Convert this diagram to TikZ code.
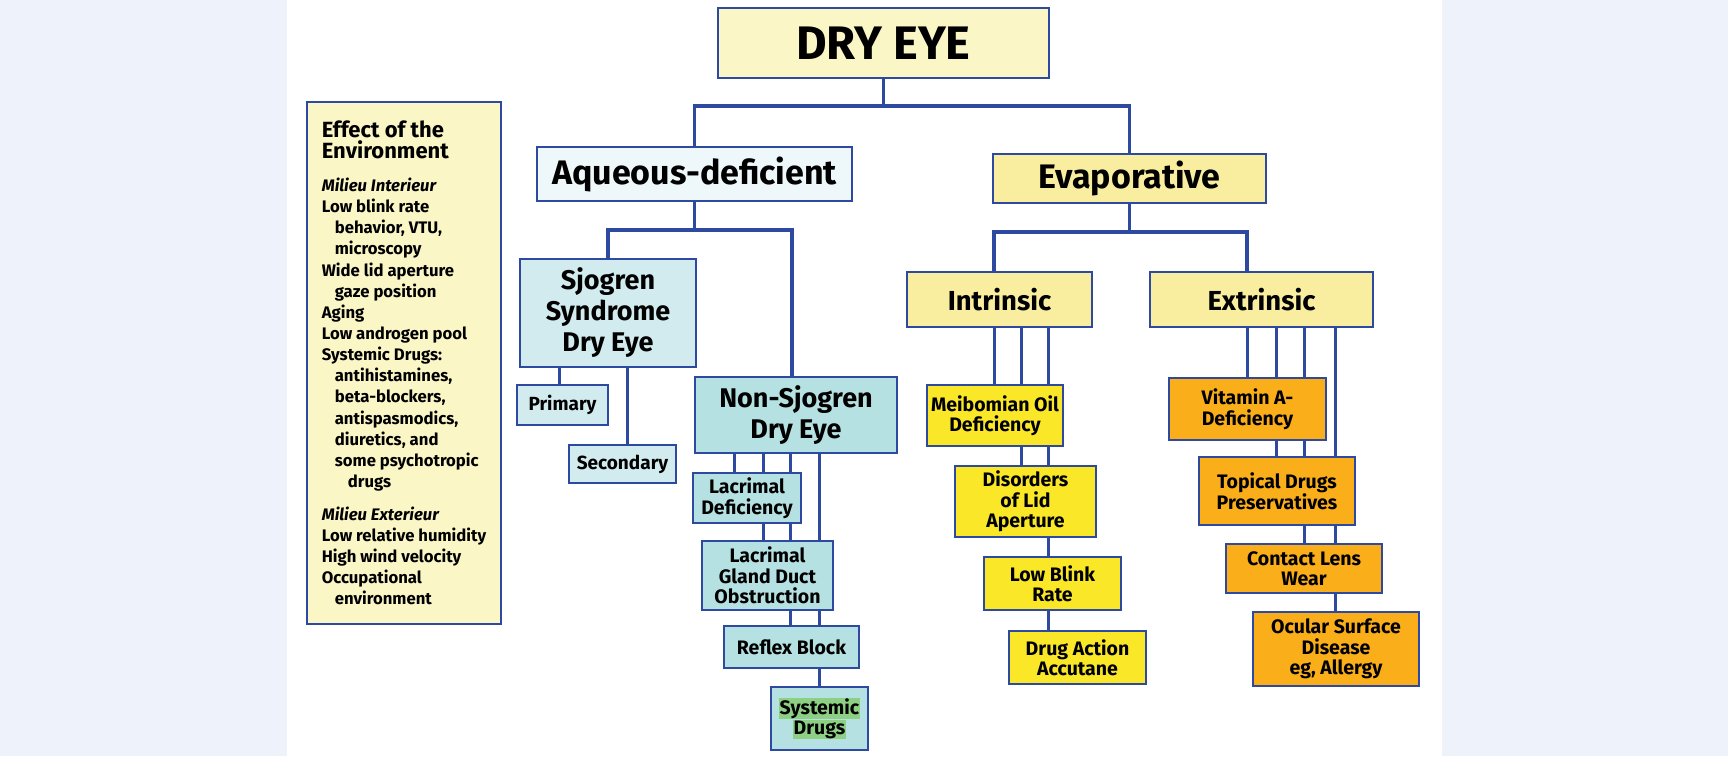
\documentclass[tikz,border=0pt]{standalone}
\usepackage{fontspec}
\setmainfont{Fira Sans}
\usepackage{xcolor}
\usetikzlibrary{positioning}

\definecolor{lineblue}{RGB}{46,74,160}
\definecolor{stripbg}{RGB}{238,242,250}
\definecolor{paleyellow}{RGB}{250,246,198}
\definecolor{evapyellow}{RGB}{249,238,160}
\definecolor{paleaqua}{RGB}{238,247,249}
\definecolor{sjaqua}{RGB}{209,235,238}
\definecolor{nsaqua}{RGB}{182,225,226}
\definecolor{brightyellow}{RGB}{249,231,40}
\definecolor{deeporange}{RGB}{249,174,26}
\definecolor{hlgreen}{RGB}{141,208,132}

\newcommand{\hilite}[1]{{\setlength{\fboxsep}{0.6pt}\colorbox{hlgreen}{#1}}}

\begin{document}
\begin{tikzpicture}[x=1pt, y=-1pt,
        box/.style={rectangle, draw=lineblue, line width=1.7pt, inner sep=0pt, align=center},
        sz/.style 2 args={minimum width=#1pt, minimum height=#2pt},
        dryfont/.style={font=\bfseries\fontsize{47}{47}\selectfont},
        headfont/.style={font=\bfseries\fontsize{34}{34}\selectfont},
        subfont/.style={font=\bfseries\fontsize{27.5}{30}\selectfont},
        sjfont/.style={font=\bfseries\fontsize{27}{31}\selectfont},
        primfont/.style={font=\bfseries\fontsize{19}{20}\selectfont},
        leaffont/.style={font=\bfseries\fontsize{19.5}{20.5}\selectfont},
        envfont/.style={font=\bfseries\fontsize{16.7}{21.14}\selectfont},
        trunk/.style={draw=lineblue, line width=3.6pt},
        branch/.style={draw=lineblue, line width=3pt}]

    % page
    \fill[stripbg] (0,0) rectangle (1728,756);
    \fill[white] (287,0) rectangle (1442,756);
    \useasboundingbox (0,0) rectangle (1728,756);

    % top levels
    \node[box, fill=paleyellow, sz={331}{70}, dryfont] (dry) at (883.5,43) {DRY EYE};
    \node[box, fill=paleaqua, sz={315}{54}, headfont] (aq) at (694.5,174) {Aqueous-deficient};
    \node[box, fill=evapyellow, sz={273}{49}, headfont] (evap) at (1129.5,178.5) {Evaporative};

    % environment panel
    \node[box, fill=paleyellow, sz={194}{522}, align=left, envfont] (env) at (404,363) {%
        {\fontsize{22}{21.14}\selectfont Effect of the}\\
        {\fontsize{22}{21.14}\selectfont Environment}\\[11.5pt]
        \textit{Milieu Interieur}\\
        Low blink rate\\
        \hspace*{13pt}behavior, VTU,\\
        \hspace*{13pt}microscopy\\
        Wide lid aperture\\
        \hspace*{13pt}gaze position\\
        Aging\\
        Low androgen pool\\
        Systemic Drugs:\\
        \hspace*{13pt}antihistamines,\\
        \hspace*{13pt}beta-blockers,\\
        \hspace*{13pt}antispasmodics,\\
        \hspace*{13pt}diuretics, and\\
        \hspace*{13pt}some psychotropic\\
        \hspace*{26pt}drugs\\[11.5pt]
        \textit{Milieu Exterieur}\\
        Low relative humidity\\
        High wind velocity\\
        Occupational\\
        \hspace*{13pt}environment};

    % aqueous-deficient side
    \node[box, fill=sjaqua, sz={176}{108}, sjfont] (sj) at (608,313) {Sjogren\\Syndrome\\Dry Eye};
    \node[box, fill=nsaqua, sz={202}{76}, sjfont] (nonsj) at (796,415) {Non-Sjogren\\Dry Eye};
    \node[box, fill=sjaqua, sz={91}{40}, primfont] (prim) at (562.5,405) {Primary};
    \node[box, fill=sjaqua, sz={107}{38}, primfont] (sec) at (622.5,464) {Secondary};
    \node[box, fill=nsaqua, sz={108}{50}, leaffont] (lacdef) at (747,498) {Lacrimal\\Deficiency};
    \node[box, fill=nsaqua, sz={131}{69}, leaffont] (lgd) at (767.5,575.5) {Lacrimal\\Gland Duct\\Obstruction};
    \node[box, fill=nsaqua, sz={135}{42}, leaffont] (reflex) at (791.5,647) {Reflex Block};
    \node[box, fill=nsaqua, sz={97}{63}, leaffont] (sysdrug) at (819.5,718.5) {\hilite{Systemic}\\\hilite{Drugs}};

    % evaporative side
    \node[box, fill=evapyellow, sz={185}{55}, subfont] (intr) at (999.5,299.5) {Intrinsic};
    \node[box, fill=evapyellow, sz={223}{55}, subfont] (extr) at (1261.5,299.5) {Extrinsic};
    \node[box, fill=brightyellow, sz={136}{61}, leaffont] (meib) at (995,415.5) {Meibomian Oil\\Deficiency};
    \node[box, fill=brightyellow, sz={141}{71}, leaffont] (lid) at (1025.5,501.5) {Disorders\\of Lid\\Aperture};
    \node[box, fill=brightyellow, sz={137}{53}, leaffont] (blink) at (1052.5,583.5) {Low Blink\\Rate};
    \node[box, fill=brightyellow, sz={137}{53}, leaffont] (accu) at (1077.5,657.5) {Drug Action\\Accutane};
    \node[box, fill=deeporange, sz={157}{62}, leaffont] (vita) at (1247.5,409) {Vitamin A-\\Deficiency};
    \node[box, fill=deeporange, sz={156}{68}, leaffont] (topdrug) at (1277,491) {Topical Drugs\\Preservatives};
    \node[box, fill=deeporange, sz={156}{49}, leaffont] (lens) at (1304,568.5) {Contact Lens\\Wear};
    \node[box, fill=deeporange, sz={166}{74}, leaffont] (ocular) at (1336,649) {Ocular Surface\\Disease\\eg, Allergy};

    % junctions and line positions
    \coordinate (j1) at (883.5,106);
    \coordinate (j2) at (694.5,230);
    \coordinate (j3) at (1129.5,232);
    \coordinate (ar) at (792,0);
    \coordinate (sp1) at (559,0);
    \coordinate (sp2) at (627,0);
    \coordinate (ns1) at (734,0);
    \coordinate (ns2) at (763,0);
    \coordinate (ns3) at (790,0);
    \coordinate (ns4) at (819,0);
    \coordinate (in1) at (994,0);
    \coordinate (in2) at (1021,0);
    \coordinate (in3) at (1048,0);
    \coordinate (ex1) at (1247,0);
    \coordinate (ex2) at (1276,0);
    \coordinate (ex3) at (1304,0);
    \coordinate (ex4) at (1335,0);

    % brackets
    \draw[trunk] (dry.south) -- (j1);
    \draw[trunk] (aq.north) |- (j1) -| (evap.north);
    \draw[trunk] (aq.south) -- (j2);
    \draw[trunk] (sj.north) |- (j2) -| (nonsj.north -| ar);
    \draw[trunk] (evap.south) -- (j3);
    \draw[trunk] (intr.north -| in1) |- (j3) -| (extr.north -| ex1);

    % sjogren
    \draw[branch] (sj.south -| sp1) -- (prim.north -| sp1);
    \draw[branch] (sj.south -| sp2) -- (sec.north -| sp2);

    % non-sjogren
    \foreach \c in {ns1,ns2,ns3}
        \draw[branch] (nonsj.south -| \c) -- (lacdef.north -| \c);
    \draw[branch] (nonsj.south -| ns4) -- (lgd.north -| ns4);
    \foreach \c in {ns2,ns3}
        \draw[branch] (lacdef.south -| \c) -- (lgd.north -| \c);
    \foreach \c in {ns3,ns4}
        \draw[branch] (lgd.south -| \c) -- (reflex.north -| \c);
    \draw[branch] (reflex.south -| ns4) -- (sysdrug.north -| ns4);

    % intrinsic
    \foreach \c in {in1,in2,in3}
        \draw[branch] (intr.south -| \c) -- (meib.north -| \c);
    \foreach \c in {in2,in3}
        \draw[branch] (meib.south -| \c) -- (lid.north -| \c);
    \draw[branch] (lid.south -| in3) -- (blink.north -| in3);
    \draw[branch] (blink.south -| in3) -- (accu.north -| in3);

    % extrinsic
    \foreach \c in {ex1,ex2,ex3}
        \draw[branch] (extr.south -| \c) -- (vita.north -| \c);
    \draw[branch] (extr.south -| ex4) -- (topdrug.north -| ex4);
    \foreach \c in {ex2,ex3}
        \draw[branch] (vita.south -| \c) -- (topdrug.north -| \c);
    \foreach \c in {ex3,ex4}
        \draw[branch] (topdrug.south -| \c) -- (lens.north -| \c);
    \draw[branch] (lens.south -| ex4) -- (ocular.north -| ex4);
\end{tikzpicture}
\end{document}
